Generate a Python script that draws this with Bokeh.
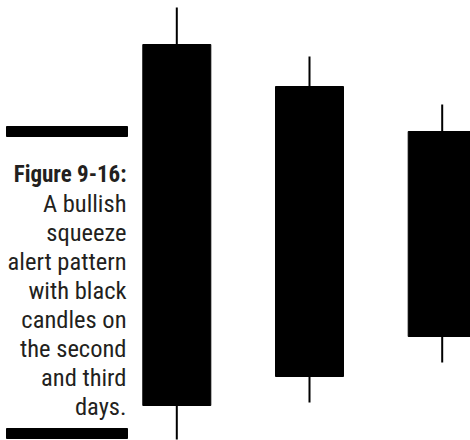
from bokeh.plotting import figure
from bokeh.layouts import row
from bokeh.models import Range1d
from bokeh.core.properties import value
from bokeh.embed import file_html
from bokeh.resources import INLINE

# Candlestick data (arbitrary price units)
days = [1, 2, 3]
highs = [433, 384, 336]
opens = [396, 354, 309]
closes = [35, 64, 104]
lows = [1, 38, 78]

caption_title = "Figure 9-16:"
caption_lines = ["A bullish", "squeeze", "alert pattern", "with black",
                 "candles on", "the second", "and third", "days."]

FONT = "Roboto Condensed, DejaVu Sans Condensed, Liberation Sans Narrow, Roboto, sans-serif"
TEXT_COLOR = "#231f20"

H = 440
# ---- caption panel (pixel-like coordinates, y downwards) ----
CW = 135
cap = figure(width=CW, height=H, output_backend="svg", toolbar_location=None,
             x_range=Range1d(0, CW), y_range=Range1d(H, 0),
             min_border=0, outline_line_color=None)
cap.axis.visible = False
cap.grid.visible = False

cap.quad(left=[6, 6], right=[127, 127], top=[126, 428], bottom=[136, 438],
         color="black")
base = 174
step = 29
cap.text(x=[126], y=[base], text=[caption_title], text_align="right",
         text_baseline="alphabetic", text_font=value(FONT),
         text_font_style="bold", text_font_size="23px", text_color=TEXT_COLOR)
cap.text(x=[126] * len(caption_lines),
         y=[base + (i + 1) * step for i in range(len(caption_lines))],
         text=caption_lines, text_align="right", text_baseline="alphabetic",
         text_font=value(FONT), text_font_size="24.5px", text_color=TEXT_COLOR)

# ---- candle panel ----
W = 470 - CW
left_px, right_px = CW, 470
c1, c3 = 176.3, 441.7
ppu = (c3 - c1) / 2.0
x0 = 1 - (c1 - left_px) / ppu
x1 = 3 + (right_px - c3) / ppu

p = figure(width=W, height=H, output_backend="svg", toolbar_location=None,
           x_range=Range1d(x0, x1), y_range=Range1d(0, H),
           min_border=0, outline_line_color=None)
p.axis.visible = False
p.grid.visible = False

p.segment(x0=days, y0=lows, x1=days, y1=highs, line_color="black", line_width=2)
p.vbar(x=days, width=68 / ppu, top=opens, bottom=closes,
       fill_color="black", line_color="black")

layout = row(cap, p, spacing=0)
open("out.html", "w").write(file_html(layout, INLINE))
